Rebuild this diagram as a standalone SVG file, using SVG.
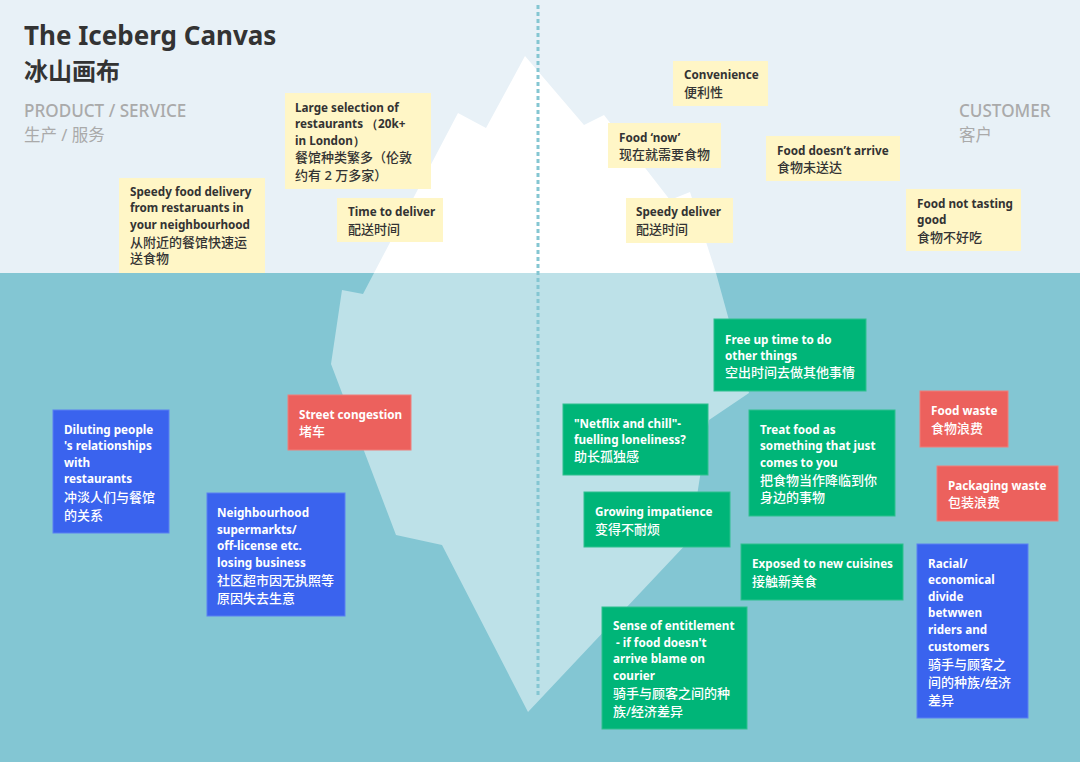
<svg xmlns="http://www.w3.org/2000/svg" width="1080" height="762" viewBox="0 0 1080 762">
<style>
.en{font-family:"Noto Sans","Open Sans",sans-serif;font-weight:700;font-size:11.7px}
.zh{font-family:"Noto Sans","Noto Sans CJK SC",sans-serif;font-weight:500;font-size:13px}
.dk{fill:#333}
.wt{fill:#fff}
.y{fill:#fff6c6}
.g{fill:#00b578;stroke:#2fc08e;stroke-width:1}
.b{fill:#3a63ee;stroke:#5a80f2;stroke-width:1}
.r{fill:#ec615d;stroke:#f07f7b;stroke-width:1}
.hd{font-family:"Noto Sans","Noto Sans CJK SC",sans-serif;fill:#aaa}
</style>
<rect x="0" y="0" width="1080" height="273" fill="#e8f1f7"/>
<rect x="0" y="273" width="1080" height="489" fill="#83c6d3"/>
<g id="iceberg">
<polygon points="374,273 458,113 486,128 525,56 584,125 604,115 670,200 690,192 716,273" fill="#ffffff"/>
<polygon points="374,273 363,294 342,290 331,364 396,535 442,545 528,712 690,540 699,483 709,420 749,393 716,273" fill="#bde1e8"/>
</g>
<line x1="538" y1="5" x2="538" y2="695" stroke="#84c6d2" stroke-width="3" stroke-dasharray="4 3"/>
<g id="title">
<text x="24" y="44.5" font-family="'Noto Sans',sans-serif" font-weight="700" font-size="26" fill="#333">The Iceberg Canvas</text>
<text x="24" y="80" font-family="'Noto Sans CJK SC',sans-serif" font-weight="700" font-size="24" fill="#333">冰山画布</text>
</g>
<g id="product-header">
<text class="hd" x="24" y="117" font-size="17.1" font-weight="500">PRODUCT / SERVICE</text>
<text class="hd" x="24" y="141" font-size="16.5">生产 / 服务</text>
</g>
<g id="customer-header">
<text class="hd" x="959" y="117" font-size="17.1" font-weight="500">CUSTOMER</text>
<text class="hd" x="959" y="141" font-size="16.5">客户</text>
</g>
<g id="large-selection">
<rect class="y" x="285" y="93" width="146" height="96"/>
<text class="en dk" x="295" y="111.5">Large selection of</text>
<text class="en dk" x="295" y="128">restaurants （20k+</text>
<text class="en dk" x="295" y="144.5">in London）</text>
<text class="zh dk" x="295" y="162">餐馆种类繁多（伦敦</text>
<text class="zh dk" x="295" y="179.5">约有 2 万多家）</text>
</g>
<g id="speedy-food-delivery">
<rect class="y" x="119" y="178" width="146" height="95"/>
<text class="en dk" x="130" y="196">Speedy food delivery</text>
<text class="en dk" x="130" y="212">from restaruants in</text>
<text class="en dk" x="130" y="228.5">your neighbourhood</text>
<text class="zh dk" x="130" y="246.5">从附近的餐馆快速运</text>
<text class="zh dk" x="130" y="263">送食物</text>
</g>
<g id="time-to-deliver">
<rect class="y" x="337" y="198" width="106" height="44"/>
<text class="en dk" x="348" y="215.5">Time to deliver</text>
<text class="zh dk" x="348" y="234">配送时间</text>
</g>
<g id="convenience">
<rect class="y" x="673" y="61" width="95" height="45"/>
<text class="en dk" x="684" y="78.5">Convenience</text>
<text class="zh dk" x="684" y="96.5">便利性</text>
</g>
<g id="food-now">
<rect class="y" x="608" y="123" width="113" height="45"/>
<text class="en dk" x="619" y="141.5">Food ‘now’</text>
<text class="zh dk" x="619" y="159">现在就需要食物</text>
</g>
<g id="food-doesnt-arrive">
<rect class="y" x="766" y="136" width="134" height="45"/>
<text class="en dk" x="777" y="154.5">Food doesn’t arrive</text>
<text class="zh dk" x="777" y="171.5">食物未送达</text>
</g>
<g id="food-not-tasting">
<rect class="y" x="906" y="189" width="115" height="62"/>
<text class="en dk" x="917" y="207.5">Food not tasting</text>
<text class="en dk" x="917" y="224">good</text>
<text class="zh dk" x="917" y="241.5">食物不好吃</text>
</g>
<g id="speedy-deliver">
<rect class="y" x="626" y="198" width="107" height="45"/>
<text class="en dk" x="636" y="215.5">Speedy deliver</text>
<text class="zh dk" x="636" y="234">配送时间</text>
</g>
<g id="diluting">
<rect class="b" x="53" y="410" width="116" height="123"/>
<text class="en wt" x="64" y="433.5">Diluting people</text>
<text class="en wt" x="64" y="450">'s relationships</text>
<text class="en wt" x="64" y="466.5">with</text>
<text class="en wt" x="64" y="483">restaurants</text>
<text class="zh wt" x="64" y="501.5">冲淡人们与餐馆</text>
<text class="zh wt" x="64" y="519.5">的关系</text>
</g>
<g id="street-congestion">
<rect class="r" x="288" y="395" width="123" height="55"/>
<text class="en wt" x="299" y="418.5">Street congestion</text>
<text class="zh wt" x="299" y="436">堵车</text>
</g>
<g id="neighbourhood">
<rect class="b" x="207" y="493" width="138" height="123"/>
<text class="en wt" x="217" y="516.5">Neighbourhood</text>
<text class="en wt" x="217" y="533.5">supermarkts/</text>
<text class="en wt" x="217" y="550">off-license etc.</text>
<text class="en wt" x="217" y="566.5">losing business</text>
<text class="zh wt" x="217" y="585">社区超市因无执照等</text>
<text class="zh wt" x="217" y="603">原因失去生意</text>
</g>
<g id="free-up-time">
<rect class="g" x="714" y="319" width="152" height="72"/>
<text class="en wt" x="725" y="343.5">Free up time to do</text>
<text class="en wt" x="725" y="359.5">other things</text>
<text class="zh wt" x="725" y="377">空出时间去做其他事情</text>
</g>
<g id="netflix">
<rect class="g" x="563" y="404" width="145" height="71"/>
<text class="en wt" x="574" y="427.5">"Netflix and chill"-</text>
<text class="en wt" x="574" y="443.5">fuelling loneliness?</text>
<text class="zh wt" x="574" y="461">助长孤独感</text>
</g>
<g id="treat-food">
<rect class="g" x="749" y="410" width="146" height="106"/>
<text class="en wt" x="760" y="433.5">Treat food as</text>
<text class="en wt" x="760" y="450">something that just</text>
<text class="en wt" x="760" y="466.5">comes to you</text>
<text class="zh wt" x="760" y="484.5">把食物当作降临到你</text>
<text class="zh wt" x="760" y="502">身边的事物</text>
</g>
<g id="food-waste">
<rect class="r" x="920" y="391" width="88" height="56"/>
<text class="en wt" x="931" y="414.5">Food waste</text>
<text class="zh wt" x="931" y="433">食物浪费</text>
</g>
<g id="packaging-waste">
<rect class="r" x="937" y="466" width="121" height="55"/>
<text class="en wt" x="948" y="489.5">Packaging waste</text>
<text class="zh wt" x="948" y="507">包装浪费</text>
</g>
<g id="growing-impatience">
<rect class="g" x="584" y="492" width="146" height="55"/>
<text class="en wt" x="595" y="515.5">Growing impatience</text>
<text class="zh wt" x="595" y="534">变得不耐烦</text>
</g>
<g id="exposed">
<rect class="g" x="741" y="544" width="162" height="56"/>
<text class="en wt" x="752" y="567.5">Exposed to new cuisines</text>
<text class="zh wt" x="752" y="586">接触新美食</text>
</g>
<g id="racial-divide">
<rect class="b" x="917" y="544" width="111" height="174"/>
<text class="en wt" x="928" y="567.5">Racial/</text>
<text class="en wt" x="928" y="584">economical</text>
<text class="en wt" x="928" y="600.5">divide</text>
<text class="en wt" x="928" y="617">betwwen</text>
<text class="en wt" x="928" y="633.5">riders and</text>
<text class="en wt" x="928" y="650.5">customers</text>
<text class="zh wt" x="928" y="669">骑手与顾客之</text>
<text class="zh wt" x="928" y="687">间的种族/经济</text>
<text class="zh wt" x="928" y="705">差异</text>
</g>
<g id="entitlement">
<rect class="g" x="602" y="607" width="145" height="122"/>
<text class="en wt" x="613" y="630">Sense of entitlement</text>
<text class="en wt" x="613" y="646.5" xml:space="preserve"> - if food doesn't</text>
<text class="en wt" x="613" y="663">arrive blame on</text>
<text class="en wt" x="613" y="679.5">courier</text>
<text class="zh wt" x="613" y="698">骑手与顾客之间的种</text>
<text class="zh wt" x="613" y="716">族/经济差异</text>
</g>
</svg>
